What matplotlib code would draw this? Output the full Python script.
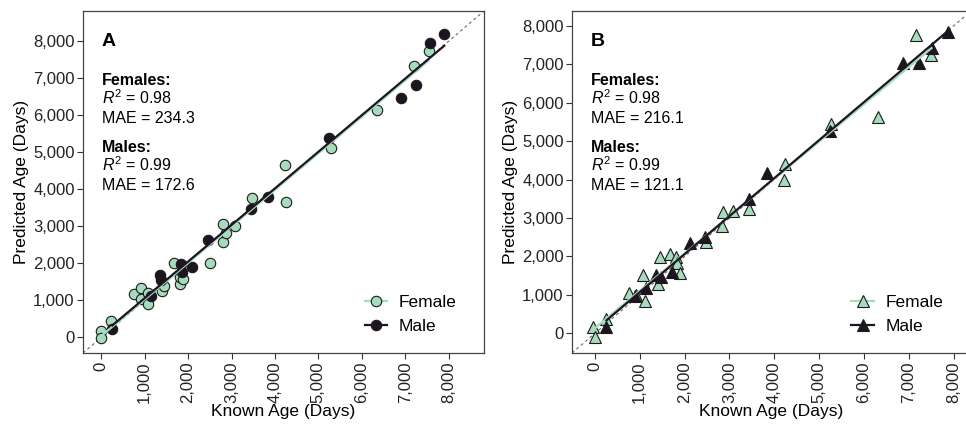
import numpy as np
import matplotlib
matplotlib.use('Agg')
import matplotlib.pyplot as plt
from matplotlib.lines import Line2D
from matplotlib.ticker import FuncFormatter

plt.rcParams['font.family'] = ['Liberation Sans', 'DejaVu Sans']
plt.rcParams['mathtext.fontset'] = 'custom'
plt.rcParams['mathtext.rm'] = 'Liberation Sans'
plt.rcParams['mathtext.it'] = 'Liberation Sans:italic'
plt.rcParams['mathtext.bf'] = 'Liberation Sans:bold'

# panel A: circles
a_fem_x = [0, 0, 231, 746, 908, 908, 1077, 1085, 1400, 1438, 1677, 1808, 1808, 1885,
           2500, 2808, 2862, 2808, 3077, 3462, 4231, 4254, 5285, 6346, 7192, 7538]
a_fem_y = [162, -18, 431, 1178, 1330, 1034, 1196, 899, 1258, 1393, 2004, 1447, 1627, 1582,
           2022, 2580, 2813, 3056, 3011, 3757, 4656, 3667, 5106, 6139, 7335, 7739]
a_mal_x = [254, 1150, 1346, 1385, 1830, 1850, 2100, 2454, 3446, 3831, 5254, 6900, 7246, 7577, 7900]
a_mal_y = [226, 1130, 1689, 1555, 1985, 1780, 1896, 2634, 3470, 3802, 5375, 6454, 6813, 7955, 8189]

# panel B: triangles
b_fem_x = [-37, 0, 244, 763, 911, 1074, 1111, 1407, 1444, 1667, 1800, 1830, 1889, 2481,
           2837, 2852, 3074, 3444, 4222, 4237, 5274, 6319, 7148, 7504]
b_fem_y = [177, -83, 369, 1061, 1001, 1522, 853, 1288, 1998, 2068, 1998, 1826, 1582, 2389,
           2805, 3153, 3184, 3239, 3993, 4401, 5450, 5640, 7765, 7245]
b_mal_x = [259, 890, 1133, 1370, 1481, 1726, 2111, 2444, 3444, 3837, 5237, 6874, 7222, 7520, 7867]
b_mal_y = [177, 980, 1176, 1522, 1478, 1608, 2346, 2502, 3499, 4184, 5276, 7029, 7029, 7410, 7851]

a_text = ['0.98', '234.3', '0.99', '172.6']
b_text = ['0.98', '216.1', '0.99', '121.1']

GREEN = '#a6dcbd'
DARK = '#1d1522'
EDGE = '#1a1a1a'

fig = plt.figure(figsize=(9.66, 4.25), dpi=100)
axA = fig.add_axes([83/966, 72/425, 401/966, 342/425])
axB = fig.add_axes([572/966, 72/425, 399/966, 342/425])

comma = FuncFormatter(lambda v, p: f'{int(v):,}')


def panel(ax, fx, fy, mx, my, marker, ms, lims, letter, stats):
    ax.plot([lims[0], lims[1]], [lims[0], lims[1]], ls=(0, (3, 3)), color='#555555', lw=0.7, zorder=1)
    ax.plot(fx, fy, ls='none', marker=marker, ms=ms, mfc=GREEN, mec=EDGE, mew=0.8, zorder=2)
    ax.plot(mx, my, ls='none', marker=marker, ms=ms, mfc=DARK, mec=EDGE, mew=0.8, zorder=2)
    # fitted lines
    for xs, ys, col, z in [(fx, fy, GREEN, 3), (mx, my, DARK, 4)]:
        k, b = np.polyfit(xs, ys, 1)
        xx = np.array([min(xs), max(xs)])
        ax.plot(xx, k * xx + b, color=col, lw=1.6, zorder=z)
    ax.set_xlim(lims)
    ax.set_ylim(lims)
    ticks = np.arange(0, 8001, 1000)
    ax.set_xticks(ticks)
    ax.set_yticks(ticks)
    ax.xaxis.set_major_formatter(comma)
    ax.yaxis.set_major_formatter(comma)
    ax.tick_params(axis='x', labelrotation=90)
    ax.tick_params(labelsize=12, length=4, width=0.8, color='#333333', labelcolor='#222222', pad=2)
    for s in ax.spines.values():
        s.set_color('#444444')
        s.set_linewidth(0.9)
    ax.set_xlabel('Known Age (Days)', fontsize=12.5, labelpad=1)
    ax.set_ylabel('Predicted Age (Days)', fontsize=12.5, labelpad=3)
    tr = ax.transAxes
    ax.text(0.047, 0.898, letter, transform=tr, fontsize=14, fontweight='bold')
    ax.text(0.047, 0.784, 'Females:', transform=tr, fontsize=11.5, fontweight='bold')
    ax.text(0.047, 0.728, '$R^2$ = ' + stats[0], transform=tr, fontsize=11.5)
    ax.text(0.047, 0.673, 'MAE = ' + stats[1], transform=tr, fontsize=11.5)
    ax.text(0.047, 0.588, 'Males:', transform=tr, fontsize=11.5, fontweight='bold')
    ax.text(0.047, 0.532, '$R^2$ = ' + stats[2], transform=tr, fontsize=11.5)
    ax.text(0.047, 0.477, 'MAE = ' + stats[3], transform=tr, fontsize=11.5)
    handles = [Line2D([], [], color=GREEN, lw=1.6, marker=marker, ms=ms, mfc=GREEN, mec=EDGE, mew=0.8),
               Line2D([], [], color=DARK, lw=1.6, marker=marker, ms=ms, mfc=DARK, mec=EDGE, mew=0.8)]
    return handles


h = panel(axA, a_fem_x, a_fem_y, a_mal_x, a_mal_y, 'o', 7.5, (-420, 8815), 'A', a_text)
axA.legend(h, ['Female', 'Male'], loc='center left', bbox_to_anchor=(0.703, 0.113),
           frameon=False, borderpad=0, borderaxespad=0, handlelength=1.3,
           handletextpad=0.65, labelspacing=0.5, fontsize=12.5)

h = panel(axB, b_fem_x, b_fem_y, b_mal_x, b_mal_y, '^', 8.5, (-510, 8385), 'B', b_text)
axB.legend(h, ['Female', 'Male'], loc='center left', bbox_to_anchor=(0.70, 0.113),
           frameon=False, borderpad=0, borderaxespad=0, handlelength=1.3,
           handletextpad=0.65, labelspacing=0.5, fontsize=12.5)

fig.savefig('out.png', dpi=100)
